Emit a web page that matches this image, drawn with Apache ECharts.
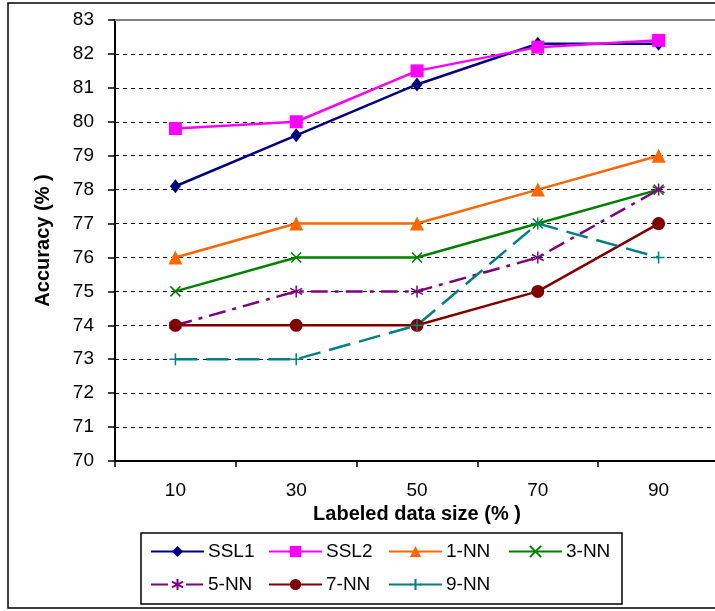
<!DOCTYPE html>
<html>
<head>
<meta charset="utf-8">
<style>
  html, body { margin: 0; padding: 0; background: #fff; }
  #chart { width: 715px; height: 611px; }
</style>
<script src="https://cdn.jsdelivr.net/npm/echarts@6/dist/echarts.min.js"></script>
</head>
<body>
<div id="chart"></div>
<script>
// Accuracy (%) by labeled data size (%)
const sizes = ['10', '30', '50', '70', '90'];
const ssl1 = [78.1, 79.6, 81.1, 82.3, 82.3];
const ssl2 = [79.8, 80.0, 81.5, 82.2, 82.4];
const nn1 = [76, 77, 77, 78, 79];
const nn3 = [75, 76, 76, 77, 78];
const nn5 = [74, 75, 75, 76, 78];
const nn7 = [74, 74, 74, 75, 77];
const nn9 = [73, 73, 74, 77, 76];

const FONT = '"Liberation Sans", Arial, sans-serif';

// stroked marker shapes
const X_MARK = 'path://M0,0L10,10M10,0L0,10';
const STAR_MARK = 'path://M5,0L5,10M0.7,2.5L9.3,7.5M9.3,2.5L0.7,7.5';
const PLUS_MARK = 'path://M5,0L5,10M0,5L10,5';

function filled(name, data, color, symbol, size, lineType) {
  return {
    name, type: 'line', data, symbol, symbolSize: size,
    itemStyle: { color },
    lineStyle: { color, width: 2.5, type: lineType || 'solid' },
    emphasis: { disabled: true }
  };
}
function stroked(name, data, color, symbol, size, lineType) {
  return {
    name, type: 'line', data, symbol, symbolSize: size,
    itemStyle: { color: 'rgba(0,0,0,0)', borderColor: color, borderWidth: 1.5 },
    lineStyle: { color, width: 2.5, type: lineType || 'solid' },
    emphasis: { disabled: true }
  };
}

const series = [
  filled('SSL1', ssl1, '#000080', 'diamond', [11, 14]),
  filled('SSL2', ssl2, '#FF00FF', 'rect', 13),
  filled('1-NN', nn1, '#FF6600', 'triangle', 14),
  stroked('3-NN', nn3, '#008000', X_MARK, 10),
  stroked('5-NN', nn5, '#800080', STAR_MARK, 12, [17, 7, 4, 7]),
  filled('7-NN', nn7, '#800000', 'circle', 13),
  stroked('9-NN', nn9, '#008080', PLUS_MARK, 12, [22, 9])
];
series[5].z = 3;

// legend grid: two rows, four columns
const legendCols = [150, 268, 388, 508];
const legendRows = [553, 586];
const legends = series.map((s, i) => ({
  data: [s.name],
  left: legendCols[i % 4],
  top: legendRows[Math.floor(i / 4)] - 11,
  padding: 0,
  itemWidth: 53,
  itemHeight: 14,
  itemGap: 0,
  selectedMode: false,
  textStyle: { fontFamily: FONT, fontSize: 19, color: '#000', padding: [0, 0, 0, -1] }
}));

const chart = echarts.init(document.getElementById('chart'), null, { renderer: 'canvas' });
chart.setOption({
  animation: false,
  backgroundColor: '#fff',
  grid: {
    left: 115, top: 20, width: 604, height: 441,
    outerBoundsMode: 'none',
    show: true, borderColor: '#808080', borderWidth: 1, containLabel: false
  },
  xAxis: {
    type: 'category',
    data: sizes,
    boundaryGap: true,
    axisLine: { lineStyle: { color: '#000', width: 2 } },
    axisTick: { show: true, length: 6, lineStyle: { color: '#000', width: 1.5 } },
    axisLabel: { fontFamily: FONT, fontSize: 19, color: '#000', margin: 20 },
    name: 'Labeled data size (% )',
    nameLocation: 'middle',
    nameGap: 43,
    nameTextStyle: { fontFamily: FONT, fontSize: 20, fontWeight: 'bold', color: '#000' }
  },
  yAxis: {
    type: 'value',
    min: 70, max: 83, interval: 1,
    axisLine: { show: true, lineStyle: { color: '#000', width: 2 } },
    axisTick: { show: true, length: 7, lineStyle: { color: '#000', width: 1.5 } },
    axisLabel: { fontFamily: FONT, fontSize: 19, color: '#000', margin: 21 },
    splitLine: { show: true, lineStyle: { color: '#000', width: 1, type: [4, 4] } },
    name: 'Accuracy (% )',
    nameLocation: 'middle',
    nameGap: 62,
    nameTextStyle: { fontFamily: FONT, fontSize: 20, fontWeight: 'bold', color: '#000' }
  },
  legend: legends,
  series,
  graphic: [
    { type: 'rect', shape: { x: 8, y: 3, width: 720, height: 605 },
      style: { fill: 'none', stroke: '#000', lineWidth: 1.5 }, z: 100, silent: true },
    { type: 'line', shape: { x1: 115, y1: 20, x2: 719, y2: 20 },
      style: { stroke: '#808080', lineWidth: 2 }, z: 1, silent: true },
    { type: 'rect', shape: { x: 141, y: 533, width: 481, height: 71 },
      style: { fill: 'none', stroke: '#000', lineWidth: 1.5 }, z: 100, silent: true }
  ]
});
</script>
</body>
</html>
